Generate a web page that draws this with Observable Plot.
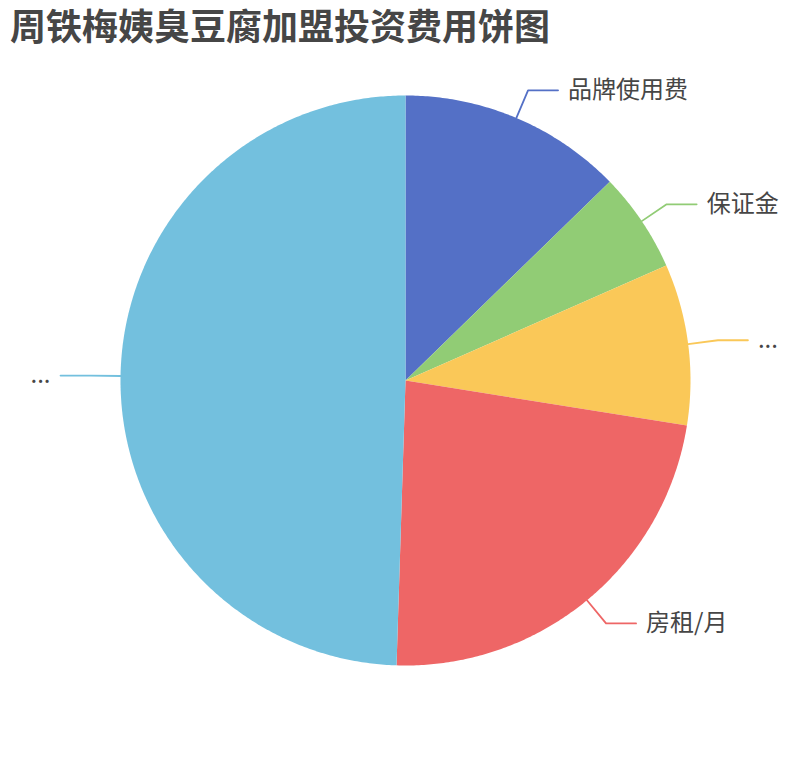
<!DOCTYPE html>
<html>
<head>
<meta charset="utf-8">
<script src="https://cdn.jsdelivr.net/npm/d3@7"></script>
<script src="https://cdn.jsdelivr.net/npm/@observablehq/plot@0.6"></script>
<style>
  html, body { margin: 0; padding: 0; background: #fff; }
  #wrap { position: relative; width: 810px; height: 760px; }
  #title { position: absolute; left: 10px; top: 2px; font: bold 36px/44px "Noto Sans CJK SC", sans-serif; color: #464646; white-space: nowrap; }
</style>
</head>
<body>
<div id="wrap">
  <div id="title">周铁梅姨臭豆腐加盟投资费用饼图</div>
</div>
<script>
// Data
const names  = ["品牌使用费", "保证金", "其他费用", "房租/月", "装修设备"];
const values = [12720, 5670, 9140, 22970, 49500];
const labels = ["品牌使用费", "保证金", "...", "房租/月", "..."];
const colors = ["#5470c6", "#91cc75", "#fac858", "#ee6666", "#73c0de"];

const R = 285;              // pie radius in px (for leader-line geometry)
const len1 = 30 / R, len2 = 30 / R;

const arcs = d3.pie().sort(null).value((d, i) => values[i])(names);

// slice outlines from pie angles (angle measured clockwise from top)
const slicePts = [];
arcs.forEach((a, i) => {
  const n = Math.max(2, Math.ceil((a.endAngle - a.startAngle) / (Math.PI / 360)));
  slicePts.push({name: names[i], x: 0, y: 0});
  for (let k = 0; k <= n; k++) {
    const t = a.startAngle + (a.endAngle - a.startAngle) * k / n;
    slicePts.push({name: names[i], x: Math.sin(t), y: Math.cos(t)});
  }
  slicePts.push({name: names[i], x: 0, y: 0});
});

// leader lines and label anchors
const leadPts = [], labelPts = [];
arcs.forEach((a, i) => {
  const m = (a.startAngle + a.endAngle) / 2;
  const sx = Math.sin(m), sy = Math.cos(m);
  const side = sx >= 0 ? 1 : -1;
  const p1 = {x: sx * (1 + len1), y: sy * (1 + len1)};
  const p2 = {x: p1.x + side * len2, y: p1.y};
  leadPts.push({name: names[i], x: sx, y: sy}, {name: names[i], ...p1}, {name: names[i], ...p2});
  labelPts.push({name: names[i], label: labels[i], side, ...p2});
});

const chart = Plot.plot({
  width: 810,
  height: 760,
  marginLeft: 120, marginRight: 120, marginTop: 95, marginBottom: 95,
  x: {domain: [-1, 1], axis: null},
  y: {domain: [-1, 1], axis: null},
  color: {domain: names, range: colors},
  style: {fontFamily: "'Noto Sans CJK SC', sans-serif", background: "transparent"},
  marks: [
    Plot.line(slicePts, {x: "x", y: "y", z: "name", fill: "name", stroke: null, curve: "linear"}),
    Plot.line(leadPts, {x: "x", y: "y", z: "name", stroke: "name", strokeWidth: 1.8, curve: "linear"}),
    Plot.text(labelPts.filter(d => d.side > 0), {x: "x", y: "y", text: "label", textAnchor: "start", dx: 10, fontSize: 24, fill: "#464646"}),
    Plot.text(labelPts.filter(d => d.side < 0), {x: "x", y: "y", text: "label", textAnchor: "end", dx: -10, fontSize: 24, fill: "#464646"})
  ]
});
document.getElementById("wrap").insertBefore(chart, document.getElementById("title"));
chart.style.position = "absolute";
chart.style.left = "0";
chart.style.top = "0";
</script>
</body>
</html>
